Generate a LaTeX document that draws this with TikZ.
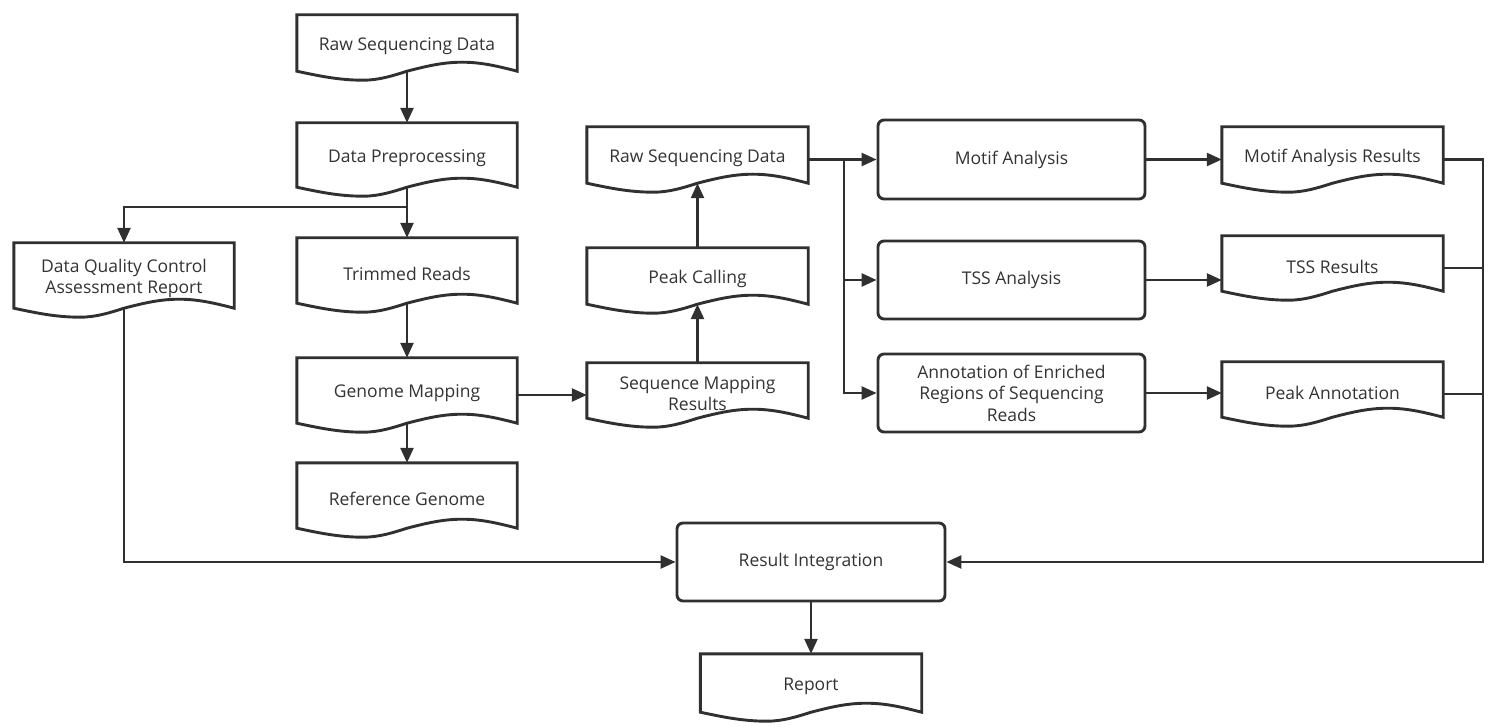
\documentclass[tikz,border=0pt]{standalone}
\usepackage{fontspec}
\setmainfont{Open Sans}
\usetikzlibrary{arrows.meta,calc}
\definecolor{ln}{HTML}{303030}
\definecolor{tx}{HTML}{333333}
\tikzset{
  docbb/.style={rectangle, inner sep=0pt, draw=none},
  txt/.style={font=\fontsize{17.5}{21}\selectfont, text=tx, align=center, inner sep=0pt},
  boxline/.style={draw=ln, line width=2.9pt, line join=miter, fill=white},
  rbox/.style={draw=ln, line width=2.9pt, rounded corners=6pt, fill=white, minimum width=267pt, minimum height=78pt, font=\fontsize{17.5}{21.5}\selectfont, text=tx, align=center, inner sep=0pt},
  conn/.style={draw=ln, line width=2.5pt},
  arr/.style={conn, -{Triangle[length=15pt,width=13pt]}}
}
\newcommand\docnode[6]{%
  \node[docbb, minimum width=#4pt, minimum height=#5pt] (#1) at (#2,#3) {};
  \coordinate (#1-b) at ($(#1.south)+(0,9pt)$);
  \draw[boxline] ($(#1.south west)+(0,9pt)$) -- (#1.north west) -- (#1.north east) -- ($(#1.south east)+(0,9pt)$)
    sin ($(#1.south west)!0.75!(#1.south east)+(0,18pt)$)
    cos ($(#1.south west)!0.5!(#1.south east)+(0,9pt)$)
    sin ($(#1.south west)!0.3!(#1.south east)$)
    cos ($(#1.south west)+(0,9pt)$) -- cycle;
  \node[txt] (#1-t) at ($(#1.center)+(0,1.5pt)$) {#6};
}
\begin{document}
\begin{tikzpicture}[x=1pt,y=-1pt]
\useasboundingbox[fill=white] (0,0) rectangle (1497,727);

% document-shaped nodes
\docnode{rsd1}{407}{47.5}{220}{65}{Raw Sequencing Data}
\docnode{dp}{407}{159.5}{220}{73}{Data Preprocessing}
\docnode{tr}{407}{275}{220}{74}{Trimmed Reads}
\docnode{gm}{407}{395}{220}{74}{Genome Mapping}
\docnode{rg}{407}{500}{220}{74}{Reference Genome}
\docnode{dqc}{124}{280}{220}{74}{Data Quality Control\\Assessment Report}
\docnode{rsd2}{697.5}{159.5}{221}{65}{Raw Sequencing Data}
\docnode{pc}{697.5}{280.5}{221}{65}{Peak Calling}
\docnode{smr}{697.5}{395}{221}{64}{Sequence Mapping\\Results}
\docnode{mres}{1332.5}{159.5}{221}{65}{Motif Analysis Results}
\docnode{tres}{1332.5}{268}{221}{64}{TSS Results}
\docnode{pann}{1332.5}{394}{221}{64}{Peak Annotation}
\docnode{rep}{811}{687.5}{221}{67}{Report}

% rounded process boxes
\node[rbox, minimum height=79pt] (motif) at (1011.5,159.5) {Motif Analysis};
\node[rbox] (tssa) at (1011.5,280) {TSS Analysis};
\node[rbox] (anno) at (1011.5,393) {Annotation of Enriched\\Regions of Sequencing\\Reads};
\node[rbox, minimum width=268pt] (ri) at (811,562) {Result Integration};

% connectors
\coordinate (br) at (407,207);
\coordinate (b2) at (844,0);
\coordinate (rc) at (1483,0);

\draw[arr] (rsd1-b) -- (dp.north);
\draw[arr] (dp-b) -- (tr.north);
\draw[arr] (br) -| (dqc.north);
\draw[arr] (tr-b) -- (gm.north);
\draw[arr] (gm-b) -- (rg.north);
\draw[arr] (gm.east) -- (smr.west);
\draw[arr] (smr.north) -- (pc-b);
\draw[arr] (pc.north) -- (rsd2-b);
\draw[arr] (rsd2.east) -- (motif.west);
\draw[arr] (rsd2.east -| b2) |- (tssa.west);
\draw[arr] (rsd2.east -| b2) |- (anno.west);
\draw[arr] (motif.east) -- (motif.east -| mres.west);
\draw[arr] (tssa.east) -- (tssa.east -| tres.west);
\draw[arr] (anno.east) -- (anno.east -| pann.west);
\draw[arr] (mres.east) -- (mres.east -| rc) |- (ri.east);
\draw[conn] (tres.east) -- (tres.east -| rc);
\draw[conn] (pann.east) -- (pann.east -| rc);
\draw[arr] (dqc-b) |- (ri.west);
\draw[arr] (ri.south) -- (rep.north);
\end{tikzpicture}
\end{document}
